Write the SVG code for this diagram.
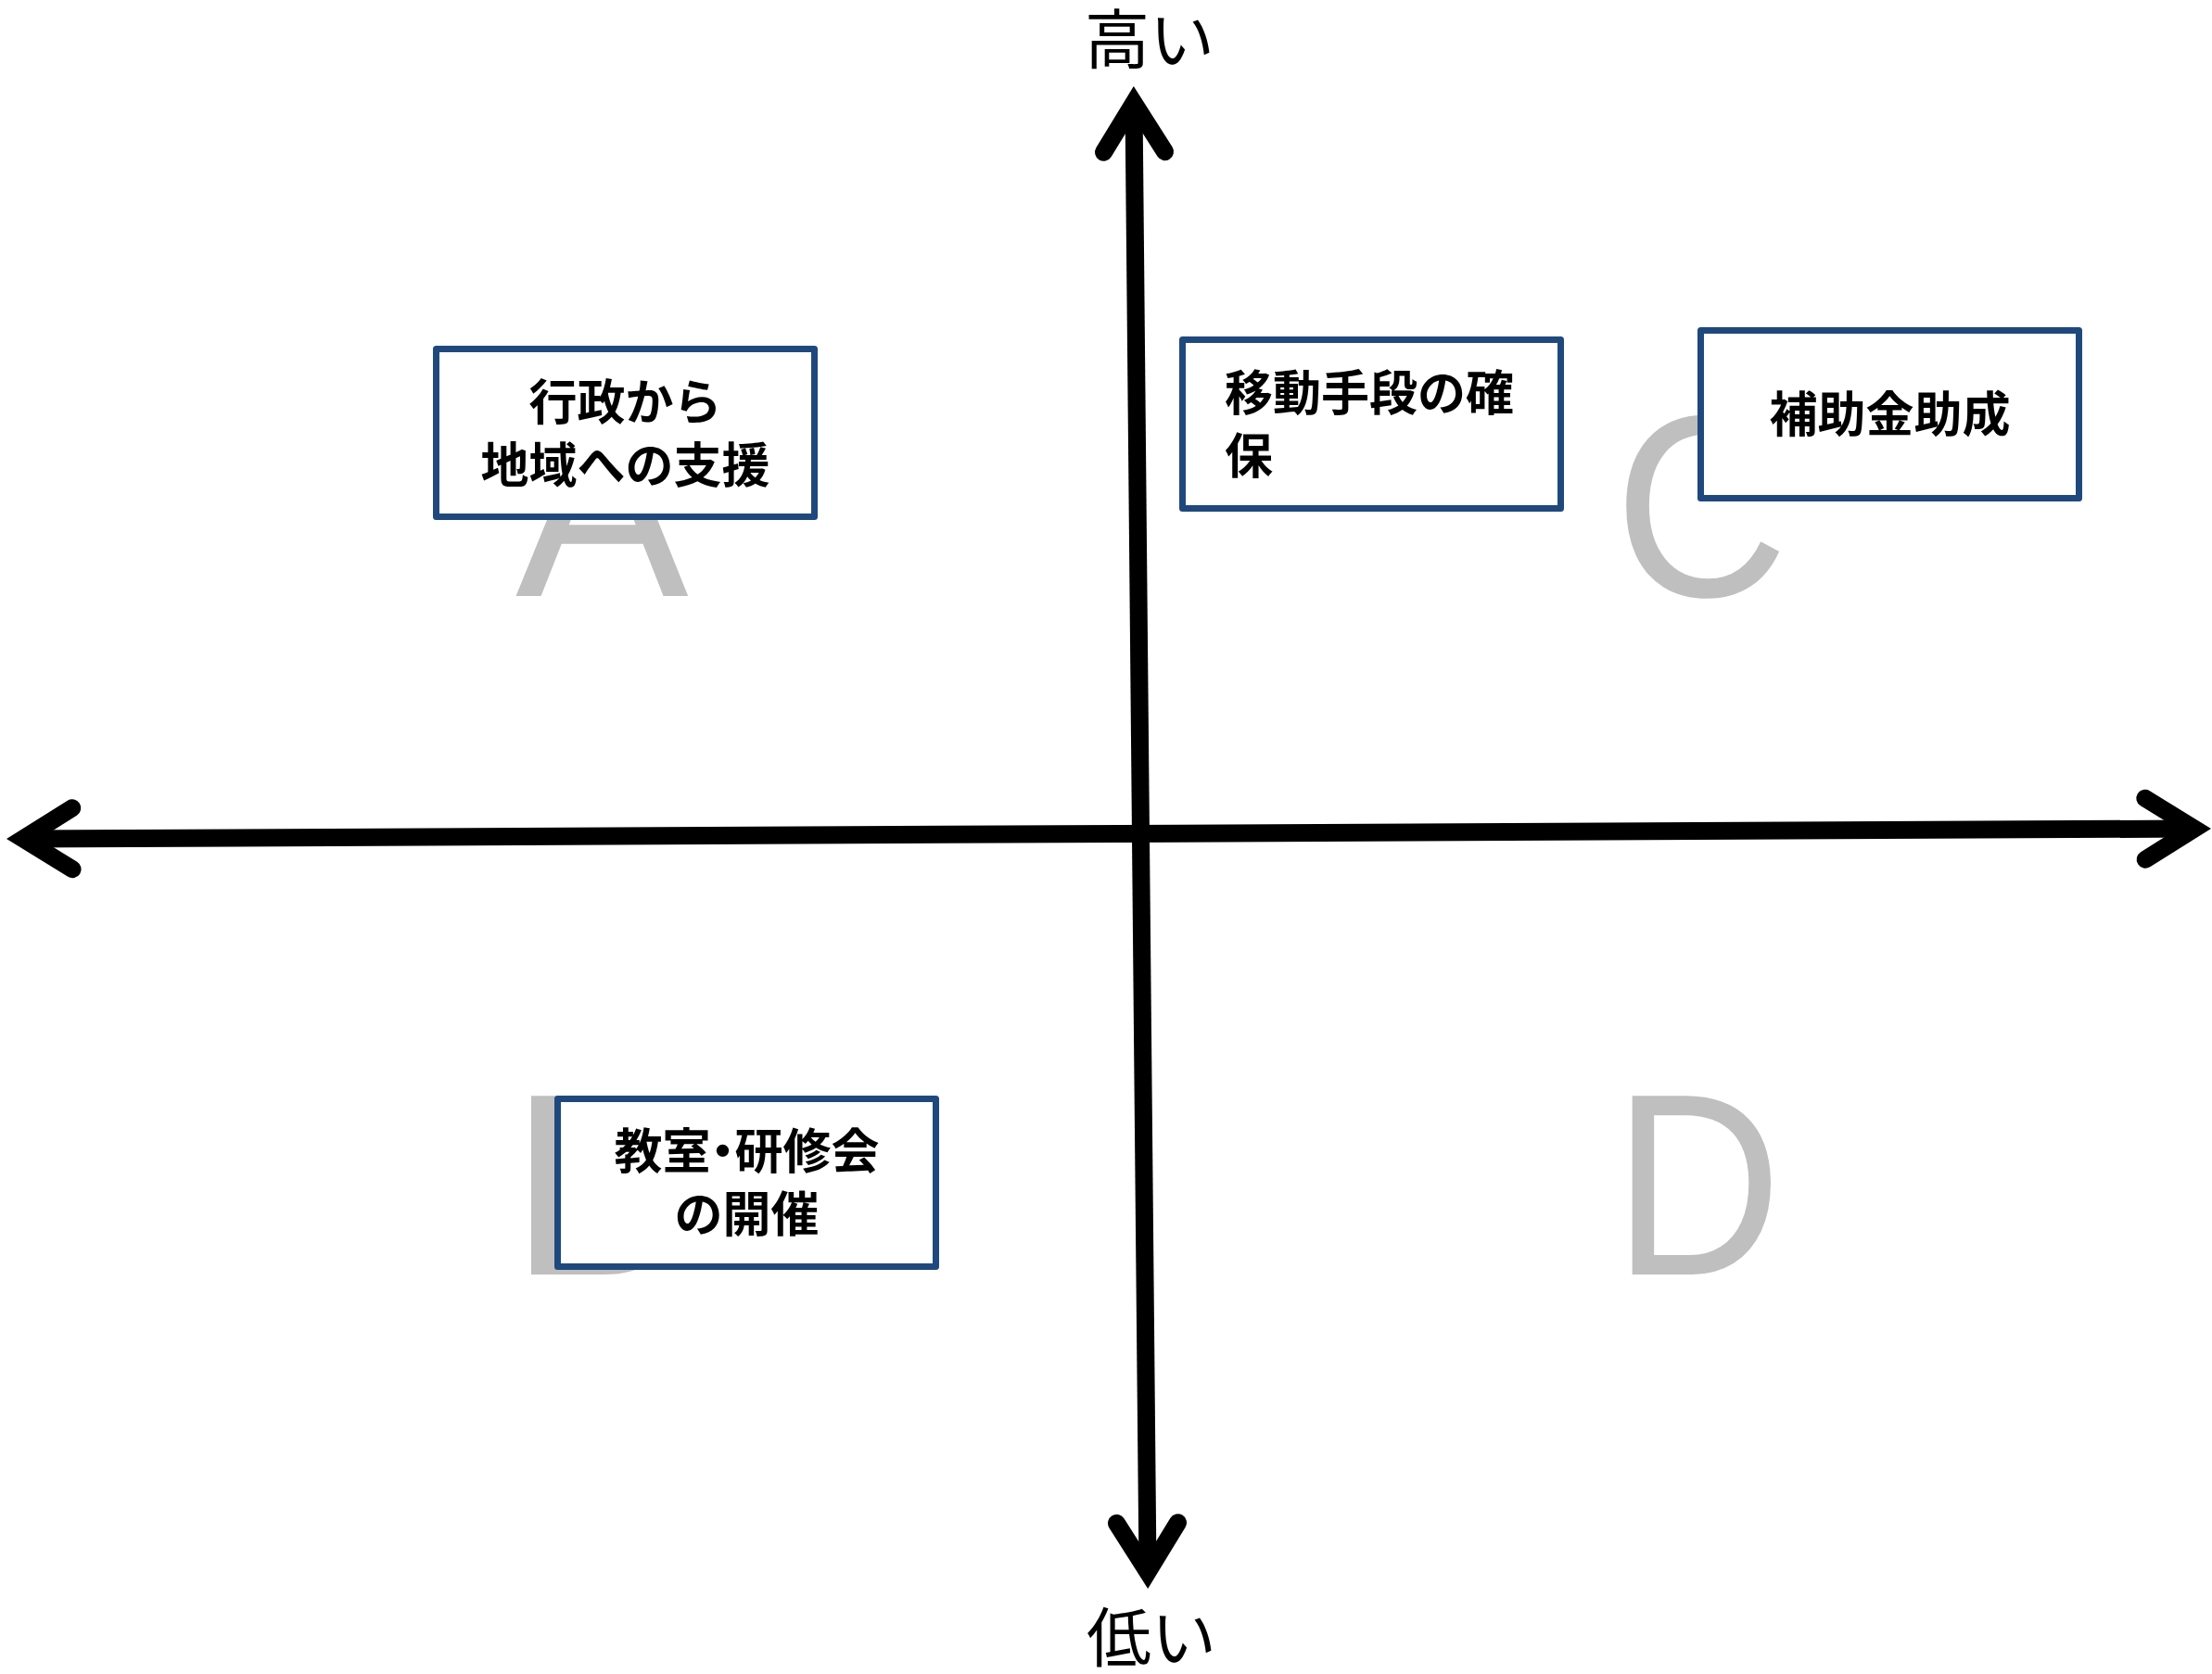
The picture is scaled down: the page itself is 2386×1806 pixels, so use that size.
<svg xmlns="http://www.w3.org/2000/svg" width="2386" height="1806" viewBox="0 0 2386 1806">
<style>
.quad{font-family:"Liberation Sans",Arial,sans-serif;font-size:280px;fill:#BFBFBF}
.axis{stroke:#000;stroke-width:19;fill:none}
.box{fill:#FFFFFF;stroke:#1F497D;stroke-width:7;stroke-linejoin:round}
.lbl{font-family:"Noto Sans CJK JP","Noto Sans",sans-serif;font-size:52px;font-weight:700;fill:#000}
.axl{font-family:"Noto Sans CJK JP","Noto Sans",sans-serif;font-size:70px;font-weight:400;fill:#000;text-anchor:middle}
</style>
<defs>
<marker id="chev" markerUnits="userSpaceOnUse" orient="auto-start-reverse" refX="0" refY="0" viewBox="-80 -60 120 120" markerWidth="120" markerHeight="120" overflow="visible">
<path d="M -53,-33 L 0,0 L -53,33" fill="none" stroke="#000" stroke-width="19" stroke-linecap="round" stroke-linejoin="miter" stroke-miterlimit="10"/>
</marker>
</defs>
<rect width="2386" height="1806" fill="#FFFFFF"/>
<g id="quadrant-letters">
<text class="quad" x="556" y="643">A</text>
<text class="quad" x="1741" y="643" textLength="188" lengthAdjust="spacingAndGlyphs">C</text>
<text class="quad" x="550" y="1375">B</text>
<text class="quad" x="1740" y="1375" textLength="182" lengthAdjust="spacingAndGlyphs">D</text>
</g>
<g id="connectors">
<path class="axis" d="M 25,905 L 2367,894" marker-start="url(#chev)" marker-end="url(#chev)"/>
<path class="axis" d="M 1223,111 L 1238,1696" marker-start="url(#chev)" marker-end="url(#chev)"/>
</g>
<g id="label-high"><text class="axl" x="1240" y="69">高い</text></g>
<g id="label-low"><text class="axl" x="1242" y="1793">低い</text></g>
<g id="node-gyosei">
<rect class="box" x="470.5" y="376.5" width="408" height="181"/>
<text class="lbl" x="674.5" y="453" text-anchor="middle">行政から</text>
<text class="lbl" x="674.5" y="521" text-anchor="middle">地域への支援</text>
</g>
<g id="node-ido">
<rect class="box" x="1275.5" y="366.5" width="408" height="182"/>
<text class="lbl" x="1321" y="443">移動手段の確</text>
<text class="lbl" x="1321" y="511">保</text>
</g>
<g id="node-hojo">
<rect class="box" x="1834.5" y="356.5" width="408" height="181"/>
<text class="lbl" x="2038.5" y="466" text-anchor="middle">補助金助成</text>
</g>
<g id="node-kyoshitsu">
<rect class="box" x="601.5" y="1185.5" width="408" height="181"/>
<text class="lbl" x="805.5" y="1261" text-anchor="middle">教室<tspan dx="-13">・</tspan><tspan dx="-13">研修会</tspan></text>
<text class="lbl" x="805.5" y="1329" text-anchor="middle">の開催</text>
</g>
</svg>
